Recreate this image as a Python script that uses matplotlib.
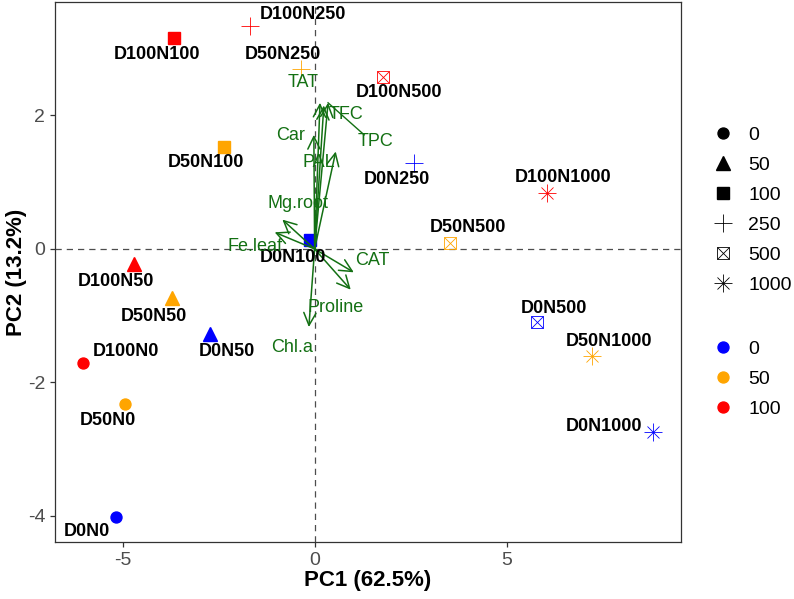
import matplotlib
matplotlib.use("Agg")
import matplotlib.pyplot as plt
from matplotlib.lines import Line2D
from matplotlib.legend_handler import HandlerTuple

plt.rcParams['font.family'] = ['Liberation Sans', 'DejaVu Sans']
plt.rcParams['axes.unicode_minus'] = False

# individuos (PC1, PC2)
muestras = ['D0N0', 'D50N0', 'D100N0', 'D0N50', 'D50N50', 'D100N50',
            'D0N100', 'D50N100', 'D100N100', 'D0N250', 'D50N250', 'D100N250',
            'D0N500', 'D50N500', 'D100N500', 'D0N1000', 'D50N1000', 'D100N1000']
dosis_D = [0, 50, 100] * 6
dosis_N = [0, 0, 0, 50, 50, 50, 100, 100, 100, 250, 250, 250,
           500, 500, 500, 1000, 1000, 1000]
pc1 = [-5.18, -4.95, -6.02, -2.73, -3.72, -4.71, -0.13, -2.37, -3.65,
       2.60, -0.36, -1.69, 5.78, 3.52, 1.77, 8.80, 7.21, 6.04]
pc2 = [-4.02, -2.33, -1.71, -1.28, -0.73, -0.23, 0.14, 1.53, 3.16,
       1.29, 2.70, 3.34, -1.10, 0.09, 2.58, -2.74, -1.60, 0.84]
# posicion de etiquetas (repel)
lab_x = [-5.94, -5.39, -4.90, -2.29, -4.19, -5.18, -0.57, -2.84, -4.11,
         2.14, -0.83, -0.31, 6.22, 3.98, 2.19, 7.53, 7.66, 6.48]
lab_y = [-4.23, -2.57, -1.54, -1.54, -1.01, -0.49, -0.13, 1.29, 2.92,
         1.04, 2.92, 3.51, -0.89, 0.32, 2.34, -2.66, -1.39, 1.07]

# variables (flechas)
variables = ['TAT', 'TFC', 'TPC', 'Car', 'PAL', 'Mg.root', 'Fe.leaf', 'CAT', 'Proline', 'Chl.a']
var_x = [0.14, 0.24, 0.35, -0.02, 0.55, -0.84, -1.04, 1.02, 0.94, -0.15]
var_y = [2.19, 2.15, 2.19, 1.71, 1.46, 0.44, 0.25, -0.35, -0.61, -1.17]
vlab_x = [-0.31, 0.81, 1.59, -0.63, 0.10, -0.44, -1.54, 1.51, 0.55, -0.60]
vlab_y = [2.50, 2.01, 1.61, 1.70, 1.29, 0.68, 0.03, -0.18, -0.88, -1.48]

colores = {0: '#0000FF', 50: '#FFA500', 100: '#FF0000'}
niveles_N = [0, 50, 100, 250, 500, 1000]
verde = '#137013'

fig = plt.figure(figsize=(7.94, 5.99), dpi=100)
ax = fig.add_axes([55/794, 1-542/599, 626/794, 540/599])


def marcar(ax, x, y, n, c, z=3):
    # formas tipo ggplot: 16, 17, 15, 3, 7, 8
    if n == 0:
        ax.plot(x, y, 'o', ms=7.9, color=c, mec=c, zorder=z)
    elif n == 50:
        ax.plot(x, y, '^', ms=9.5, color=c, mec=c, zorder=z)
    elif n == 100:
        ax.plot(x, y, 's', ms=8.4, color=c, mec=c, zorder=z)
    elif n == 250:
        ax.plot(x, y, '+', ms=13, mew=0.6, color=c, zorder=z)
    elif n == 500:
        ax.plot(x, y, 's', ms=8.4, mfc='none', mec=c, mew=0.6, zorder=z)
        ax.plot(x, y, 'x', ms=8.4, mew=0.6, color=c, zorder=z)
    else:
        ax.plot(x, y, '+', ms=13, mew=0.6, color=c, zorder=z)
        ax.plot(x, y, 'x', ms=9.2, mew=0.6, color=c, zorder=z)


ax.axhline(0, ls='--', color='#4D4D4D', lw=0.9, dashes=(5, 4), zorder=1)
ax.axvline(0, ls='--', color='#4D4D4D', lw=0.9, dashes=(5, 4), zorder=1)

for i in range(len(muestras)):
    marcar(ax, pc1[i], pc2[i], dosis_N[i], colores[dosis_D[i]])
    ax.text(lab_x[i], lab_y[i], muestras[i], fontsize=13, fontweight='bold',
            ha='center', va='center', color='black', zorder=5)

for i in range(len(variables)):
    ax.annotate('', xy=(var_x[i], var_y[i]), xytext=(0, 0),
                arrowprops=dict(arrowstyle='->,head_length=0.45,head_width=0.22',
                                color=verde, lw=1.1, shrinkA=0, shrinkB=0,
                                mutation_scale=20), zorder=4)
    ax.text(vlab_x[i], vlab_y[i], variables[i], fontsize=13, color=verde,
            ha='center', va='center', zorder=5)
# segmento de repel para TPC
ax.plot([var_x[2], vlab_x[2] - 0.3], [var_y[2], vlab_y[2] + 0.1], color=verde, lw=1.0, zorder=4)

ax.set_xlim(-6.76, 9.54)
ax.set_ylim(-4.39, 3.70)
ax.set_xticks([-5, 0, 5])
ax.set_yticks([-4, -2, 0, 2])
ax.tick_params(labelsize=14, labelcolor='#4D4D4D', color='#333333', length=3.5, width=0.9)
for s in ax.spines.values():
    s.set_color('#333333')
    s.set_linewidth(0.9)

ax.set_xlabel('PC1 (62.5%)', fontsize=16, fontweight='bold')
ax.set_ylabel('PC2 (13.2%)', fontsize=16, fontweight='bold')
ax.xaxis.set_label_coords(0.5, -0.052)
ax.yaxis.set_label_coords(-0.045, 0.5)

# leyendas
def mango(n, c):
    if n == 0:
        return Line2D([], [], ls='', marker='o', ms=7.9, color=c)
    if n == 50:
        return Line2D([], [], ls='', marker='^', ms=9.5, color=c)
    if n == 100:
        return Line2D([], [], ls='', marker='s', ms=8.4, color=c)
    if n == 250:
        return Line2D([], [], ls='', marker='+', ms=13, mew=0.6, color=c)
    if n == 500:
        return (Line2D([], [], ls='', marker='s', ms=8.4, mfc='none', mec=c, mew=0.6),
                Line2D([], [], ls='', marker='x', ms=8.4, mew=0.6, color=c))
    return (Line2D([], [], ls='', marker='+', ms=13, mew=0.6, color=c),
            Line2D([], [], ls='', marker='x', ms=9.2, mew=0.6, color=c))


h1 = [mango(n, 'black') for n in niveles_N]
leg1 = fig.legend(h1, [str(n) for n in niveles_N], loc='center left',
                  bbox_to_anchor=(0.898, 1-210/599), frameon=False, fontsize=14,
                  handlelength=1.0, handletextpad=0.8, labelspacing=0.64,
                  borderpad=0, borderaxespad=0,
                  handler_map={tuple: HandlerTuple(ndivide=1)})
h2 = [Line2D([], [], ls='', marker='o', ms=7.9, color=colores[d]) for d in [0, 50, 100]]
leg2 = fig.legend(h2, ['0', '50', '100'], loc='center left',
                  bbox_to_anchor=(0.898, 1-379/599), frameon=False, fontsize=14,
                  handlelength=1.0, handletextpad=0.8, labelspacing=0.64,
                  borderpad=0, borderaxespad=0)

fig.savefig('out.png', dpi=100)
